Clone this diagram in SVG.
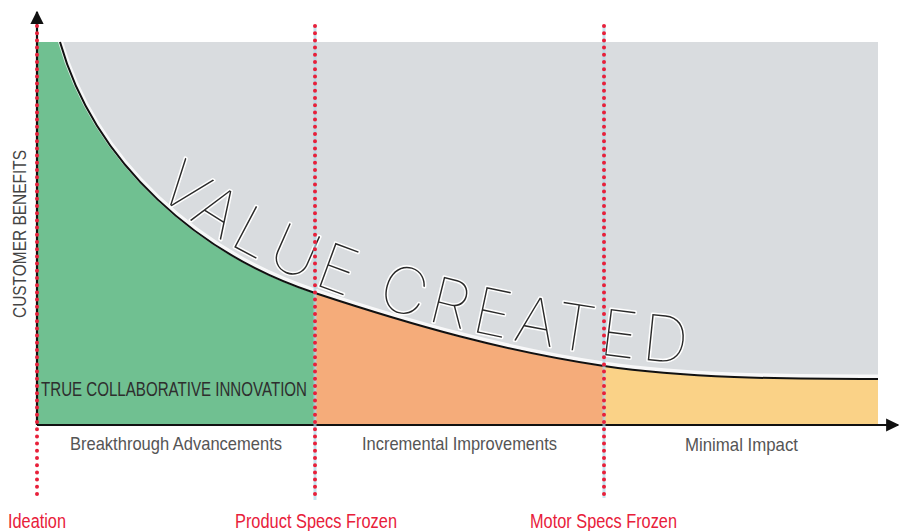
<svg xmlns="http://www.w3.org/2000/svg" width="900" height="531" viewBox="0 0 900 531">
<style>
.lbl{font-family:"Liberation Sans Narrow","Liberation Sans",Arial,sans-serif;fill:#4a4a4a}
.red{font-family:"Liberation Sans Narrow","Liberation Sans",Arial,sans-serif;fill:#e8203a}
.dots{stroke:#e8203a;stroke-width:4;stroke-linecap:round;stroke-dasharray:0 7.2;fill:none}
.halo{stroke:#a9d9ea;stroke-width:3;fill:none;opacity:0.7}
</style>
<defs>
<marker id="arr" viewBox="0 0 10 10" refX="9" refY="5" markerWidth="6" markerHeight="6" orient="auto" markerUnits="strokeWidth">
<path d="M0,0 L10,5 L0,10 Z" fill="#111"/>
</marker>
<path id="vpath" d="M152,190 C208,240 290,280 380,307 C470,335 580,356 710,366"/>
</defs>
<rect width="900" height="531" fill="#fff"/>
<g id="background">
<rect x="37" y="42" width="841" height="383" fill="#d9dcdf"/>
</g>
<g id="regions">
<path id="green" d="M37,42 L60,42 C95,165 200,255 315,293 L315,425 L37,425 Z" fill="#70c091"/>
<path id="orange" d="M315,293 C415,326 504,351 604,366 L604,425 L315,425 Z" fill="#f5ac7a"/>
<path id="yellow" d="M604,366 C684,378 780,379 878,379 L878,425 L604,425 Z" fill="#fad287"/>
</g>
<g id="curve">
<path d="M60,40 C95,163 200,253 315,291 C415,324 504,349 604,364 C684,376 780,377 878,377" fill="none" stroke="#fff" stroke-width="5" opacity="0.8"/>
<path d="M60,42 C95,165 200,255 315,293 C415,326 504,351 604,366 C684,378 780,379 878,379" fill="none" stroke="#111" stroke-width="2"/>
</g>
<g id="value-created">
<text font-family="Inter,Roboto,Lato,'Liberation Sans',sans-serif" font-weight="100" font-size="64" fill="#2a2a2a" stroke="#fff" stroke-width="3" paint-order="stroke" stroke-linejoin="round"><textPath href="#vpath" startOffset="4" textLength="566" lengthAdjust="spacing">VALUE CREATED</textPath></text>
</g>
<g id="connectors">
<line x1="37" y1="425" x2="898" y2="425" stroke="#111" stroke-width="2.2" marker-end="url(#arr)"/>
<line x1="37" y1="425" x2="37" y2="12" stroke="#111" stroke-width="2.2" marker-end="url(#arr)"/>
<line class="halo" x1="315" y1="25" x2="315" y2="500"/>
<line class="halo" x1="604" y1="25" x2="604" y2="498"/>
<line class="dots" x1="37" y1="26" x2="37" y2="500"/>
<line class="dots" x1="315" y1="26" x2="315" y2="500"/>
<line class="dots" x1="604" y1="26" x2="604" y2="498"/>
</g>
<g id="y-label">
<text class="lbl" x="0" y="0" font-size="18" style="fill:#444" textLength="168" lengthAdjust="spacingAndGlyphs" transform="translate(26,318) rotate(-90)">CUSTOMER BENEFITS</text>
</g>
<g id="true-collab">
<text class="lbl" x="41" y="396" font-size="21" style="fill:#2e2e2e" textLength="266" lengthAdjust="spacingAndGlyphs">TRUE COLLABORATIVE INNOVATION</text>
</g>
<g id="phase-labels">
<text class="lbl" x="70" y="450" font-size="19" style="fill:#555" textLength="212" lengthAdjust="spacingAndGlyphs">Breakthrough Advancements</text>
<text class="lbl" x="362" y="450" font-size="19" style="fill:#555" textLength="195" lengthAdjust="spacingAndGlyphs">Incremental Improvements</text>
<text class="lbl" x="685" y="451" font-size="19" style="fill:#555" textLength="113" lengthAdjust="spacingAndGlyphs">Minimal Impact</text>
</g>
<g id="milestones">
<text class="red" x="8" y="528" font-size="20" textLength="58" lengthAdjust="spacingAndGlyphs">Ideation</text>
<text class="red" x="235" y="528" font-size="20" textLength="162" lengthAdjust="spacingAndGlyphs">Product Specs Frozen</text>
<text class="red" x="530" y="528" font-size="20" textLength="147" lengthAdjust="spacingAndGlyphs">Motor Specs Frozen</text>
</g>
</svg>
